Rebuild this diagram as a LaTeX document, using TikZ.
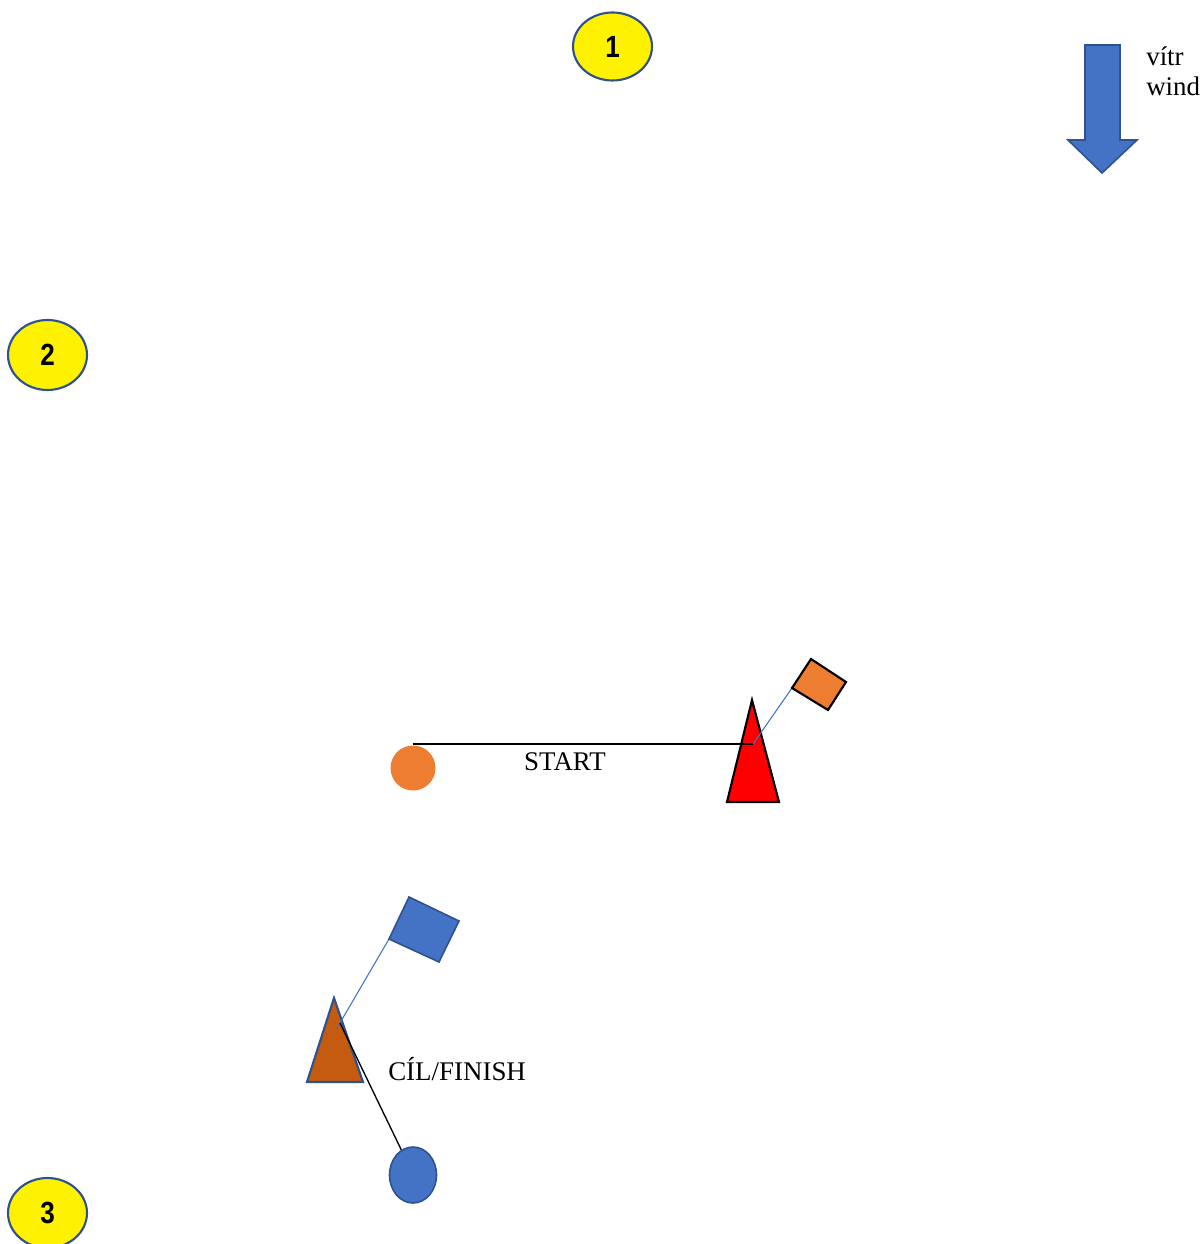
\documentclass[tikz,border=0pt]{standalone}
\usepackage{fontspec}
\setmainfont{Liberation Serif}
\newfontfamily\numfont{Liberation Sans}
\definecolor{mblue}{HTML}{4472C4}
\definecolor{mborder}{HTML}{2F528F}
\definecolor{morange}{HTML}{ED7D31}
\definecolor{mbrown}{HTML}{C55A11}
\usetikzlibrary{shapes.geometric}
\begin{document}
\begin{tikzpicture}[x=0.75pt,y=-0.75pt,
  buoy/.style={ellipse,draw=mborder,line width=1.6pt,fill=yellow,minimum width=79*0.75pt,minimum height=68*0.75pt,inner sep=0pt,
    font=\numfont\bfseries\fontsize{23}{26}\selectfont},
  lbl/.style={font=\fontsize{20.2}{23}\selectfont,inner sep=0pt},
  pole/.style={draw=mblue,line width=0.8pt},
  linej/.style={draw=black,line width=1pt}]
\useasboundingbox (0,0) rectangle (1201,1244);
% course marks
\node[buoy] (m1) at (612.5,46.5) {\scalebox{0.85}[1]{1}};
\node[buoy,minimum height=70*0.75pt] (m2) at (47.5,355) {\scalebox{0.85}[1]{2}};
\node[buoy,minimum height=70*0.75pt] (m3) at (47.5,1213) {\scalebox{0.85}[1]{3}};
% wind arrow
\draw[fill=mblue,draw=mborder,line width=1.2pt]
  (1085,45) -- (1120,45) -- (1120,140) -- (1137,140) -- (1102,173) -- (1068,140) -- (1085,140) -- cycle;
\node[lbl,anchor=base west] (vitr) at (1146,66) {vítr};
\node[lbl,anchor=base west] (wind) at (1146,96) {wind};
% start
\node[circle,fill=morange,minimum size=45*0.75pt,inner sep=0pt] (pin) at (413,768) {};
\coordinate (pinTop) at (413,744);
\coordinate (cmA) at (752,700);
\coordinate (cmL) at (727,802);
\coordinate (cmR) at (779,802);
\coordinate (cmP) at (753,744);
\draw[fill=red,draw=black,line width=1.6pt] (cmA) -- (cmR) -- (cmL) -- cycle;
\draw[linej] (pinTop) -- (cmP);
\coordinate (fA) at (811,659);
\coordinate (fB) at (846,682);
\coordinate (fC) at (828,710);
\coordinate (fD) at (792,688);
\draw[pole] (cmP) -- (fD);
\draw[fill=morange,draw=black,line width=1.6pt] (fA) -- (fB) -- (fC) -- (fD) -- cycle;
\node[lbl] (start) at (565,762) {START};
% finish
\coordinate (fmA) at (334,998);
\coordinate (fmL) at (307,1082);
\coordinate (fmR) at (363,1082);
\draw[fill=mbrown,draw=mborder,line width=1.6pt] (fmA) -- (fmR) -- (fmL) -- cycle;
\node[ellipse,draw=mborder,line width=1.2pt,fill=mblue,minimum width=47*0.75pt,minimum height=56*0.75pt,inner sep=0pt] (fin) at (413,1175) {};
\coordinate (fmP) at (337,1028);
\coordinate (fmQ) at (340,1023);
\coordinate (gA) at (409,897);
\coordinate (gB) at (459,921);
\coordinate (gC) at (439,962);
\coordinate (gD) at (389,939);
\draw[pole] (fmP) -- (gD);
\draw[fill=mblue,draw=mborder,line width=1.2pt] (gA) -- (gB) -- (gC) -- (gD) -- cycle;
\draw[linej] (fmQ) -- (fin.115);
\node[lbl,anchor=west] (finish) at (388,1069) {CÍL/FINISH};
\end{tikzpicture}
\end{document}
